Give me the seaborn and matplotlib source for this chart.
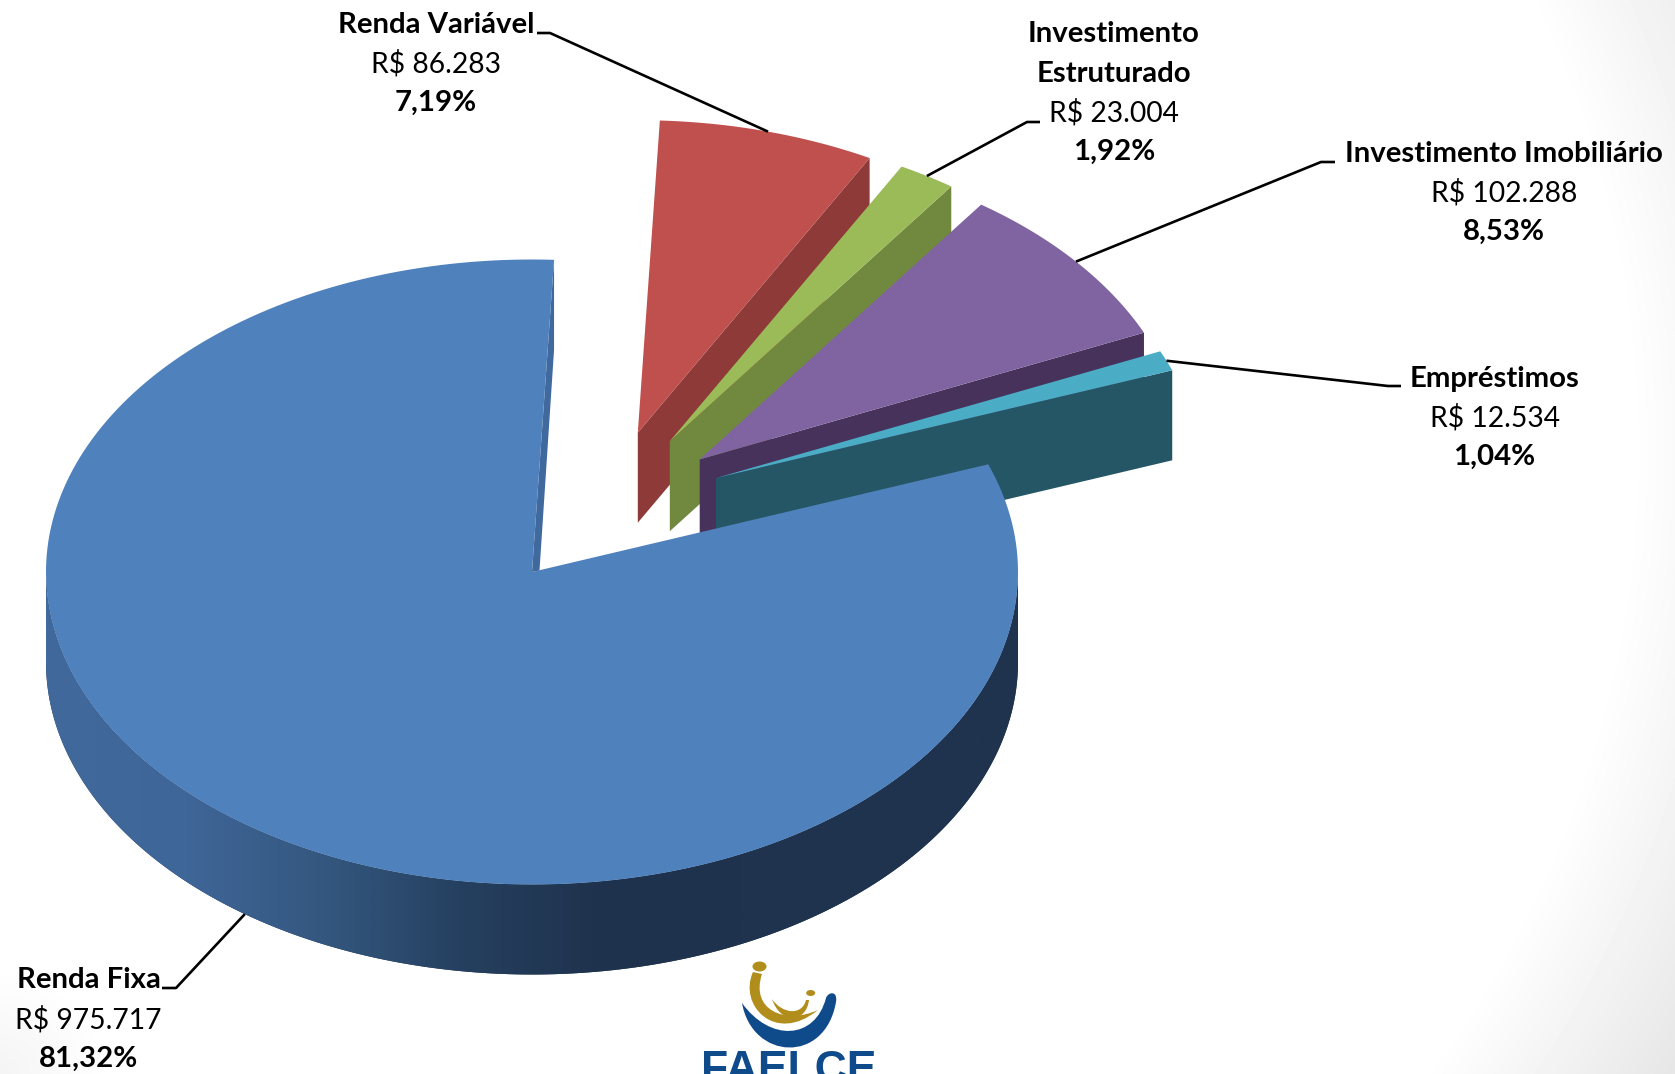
"""
Composicao da carteira FAELCE: pizza 3D explodida desenhada com seaborn/matplotlib.
"""
import numpy as np
import seaborn as sns
from matplotlib import pyplot as plt
from matplotlib.patches import Ellipse, PathPatch
from matplotlib.path import Path

# dados do grafico, na ordem horaria a partir do topo
CATEGORIES = ['Renda Variável', 'Investimento\nEstruturado',
              'Investimento Imobiliário', 'Empréstimos', 'Renda Fixa']
VALUES = [86283, 23004, 102288, 12534, 975717]
VALUE_LABELS = ['R$ 86.283', 'R$ 23.004', 'R$ 102.288', 'R$ 12.534',
                'R$ 975.717']
PERCENT_LABELS = ['7,19%', '1,92%', '8,53%', '1,04%', '81,32%']

# estilo
TOP_COLORS = ['#C0504D', '#9BBB59', '#8064A2', '#4BACC6', '#4F81BD']
WALL_COLORS = ['#8E3A38', '#71893F', '#46325A', '#255665', '#40699E']
WALL_GRADIENT = ['#41699C', '#3F6698', '#34577F', '#25405F', '#1F324D',
                 '#1F334E', '#1F334E', '#1F334E']

# layout em pixels
WIDTH, HEIGHT = 1675, 1074
CENTER_X, CENTER_Y = 532, 572
RADIUS_X, RADIUS_Y = 486, 312.5
DEPTH = 90
START_ANGLE = 2.6
EXPLODE_X = [105.8, 137.8, 167.7, 184, 0]
EXPLODE_Y = [-139.3, -130.8, -112.6, -94, 0]
LABEL_X = [436, 1114, 1504, 1494.5, 88.7]
LABEL_Y = [25, 34.5, 153.5, 378.5, 980.5]
LINE_GAP = 39
ELBOW_X = [537, 1040, 1335, 1401, 162]
ELBOW_Y = [33, 122, 162, 386, 988]
ELBOW_RUN = [13, -13, -14, -13, 14]
FONT = 'Lato'
BOLD_SIZE = 21.2
REGULAR_SIZE = 20.3


def rim(angles, shift_x, shift_y, drop=0.0):
    """Pontos da borda da elipse para angulos horarios a partir do topo."""
    rad = np.radians(angles)
    xs = CENTER_X + shift_x + RADIUS_X * np.sin(rad)
    ys = CENTER_Y + shift_y - RADIUS_Y * np.cos(rad) + drop
    return xs, ys


def draw_background(ax):
    xx, yy = np.meshgrid(np.arange(WIDTH), np.arange(HEIGHT))
    right = np.clip(np.hypot(xx - 600, yy - 450) - 1030, 0, None) * 0.118
    corner = np.clip(110 - np.hypot(xx, yy - HEIGHT), 0, None) * 0.1
    gray = 1 - (right + corner) / 255
    ax.imshow(gray, cmap='gray', vmin=0, vmax=1, aspect='auto', zorder=0,
              extent=(0, WIDTH, HEIGHT, 0))


def draw_logo(ax):
    gold, navy = '#B18E1C', '#0F4A8A'
    codes = [Path.MOVETO] + [Path.CURVE4] * 9 + [Path.CLOSEPOLY]
    shapes = [
        (navy, [(742, 1003), (752, 1060), (825, 1065), (836, 1002),
                (838, 990), (828, 992), (826, 998),
                (815, 1040), (770, 1042), (742, 1003), (742, 1003)]),
        (gold, [(753, 972), (738, 1005), (775, 1045), (818, 1010),
                (818, 1010), (818, 1010), (818, 1010),
                (785, 1025), (750, 1010), (762, 974), (753, 972)]),
        (gold, [(809, 1000), (806, 1024), (780, 1024), (772, 999),
                (772, 999), (772, 999), (772, 999),
                (782, 1014), (802, 1016), (806, 1000), (809, 1000)]),
    ]
    for color, pts in shapes:
        ax.add_patch(PathPatch(Path(pts, codes), facecolor=color, lw=0,
                               zorder=6))
    ax.add_patch(Ellipse((759.5, 966.5), 14, 10, facecolor=gold, lw=0, zorder=6))
    ax.add_patch(Ellipse((810.7, 993), 9, 6, facecolor=gold, lw=0, zorder=6))
    ax.text(789, 1082, 'FAELCE', family='Liberation Sans', fontsize=32,
            fontweight='bold', color=navy, ha='center', va='baseline', zorder=6)


sns.set_theme(style='white')
plt.rcParams['font.family'] = [FONT, 'DejaVu Sans']
top_palette = sns.color_palette(TOP_COLORS)
wall_palette = sns.color_palette(WALL_COLORS)
wall_cmap = sns.blend_palette(WALL_GRADIENT, as_cmap=True)

fig = plt.figure(figsize=(WIDTH / 100, HEIGHT / 100), dpi=100)
ax = fig.add_axes([0, 0, 1, 1])
draw_background(ax)

spans = np.array(VALUES) / np.sum(VALUES) * 360
ends = START_ANGLE + np.cumsum(spans)
starts = ends - spans

for i, label in enumerate(CATEGORIES):
    zorder = 1 + i
    angles = np.linspace(starts[i], ends[i], 240)
    off_x, off_y = EXPLODE_X[i], EXPLODE_Y[i]
    apex_x, apex_y = CENTER_X + off_x, CENTER_Y + off_y
    rim_x, rim_y = rim(angles, off_x, off_y)
    if i < 4:
        # face lateral do corte das fatias destacadas
        ax.fill([apex_x, rim_x[-1], rim_x[-1], apex_x],
                [apex_y, rim_y[-1], rim_y[-1] + DEPTH, apex_y + DEPTH],
                color=wall_palette[i], lw=0, zorder=zorder)
    else:
        # filete do corte da fatia principal, visivel em perspectiva
        ax.fill([apex_x, rim_x[-1], rim_x[-1], apex_x + 7.5],
                [apex_y, rim_y[-1], rim_y[-1] + DEPTH, apex_y - 1.5],
                color=wall_palette[i], lw=0, zorder=zorder)
        # parede externa com degrade horizontal
        wall_angles = np.linspace(90, 270, 240)
        wall_x, wall_y = rim(wall_angles, off_x, off_y)
        poly = ax.fill(np.r_[wall_x, wall_x[::-1]],
                       np.r_[wall_y, wall_y[::-1] + DEPTH],
                       color=WALL_GRADIENT[-1], lw=0, zorder=zorder)[0]
        grad = ax.imshow(np.linspace(0, 1, 512)[None, :], cmap=wall_cmap,
                         aspect='auto', zorder=zorder,
                         extent=(wall_x.min(), wall_x.max(), HEIGHT, 0))
        grad.set_clip_path(poly)
    ax.fill(np.r_[apex_x, rim_x], np.r_[apex_y, rim_y],
            color=top_palette[i], lw=0, zorder=zorder)

    # linha guia ate o meio da fatia
    mid = (starts[i] + ends[i]) / 2
    end_x, end_y = rim(np.array([mid]), off_x, off_y,
                       DEPTH if np.cos(np.radians(mid)) < 0 else 0)
    ax.plot([ELBOW_X[i], ELBOW_X[i] + ELBOW_RUN[i], end_x[0]],
            [ELBOW_Y[i], ELBOW_Y[i], end_y[0]],
            color='black', lw=1.9, zorder=7, solid_capstyle='butt')

    # rotulos
    lines = [(part, 'bold') for part in label.split('\n')]
    lines += [(VALUE_LABELS[i], 'normal'), (PERCENT_LABELS[i], 'bold')]
    for row, (text, weight) in enumerate(lines):
        ax.text(LABEL_X[i], LABEL_Y[i] + row * LINE_GAP, text, ha='center',
                va='center', fontweight=weight, color='black', zorder=8,
                fontsize=BOLD_SIZE if weight == 'bold' else REGULAR_SIZE)

draw_logo(ax)
ax.set_xlim(0, WIDTH)
ax.set_ylim(HEIGHT, 0)
ax.axis('off')
plt.savefig('out.png', dpi=100)
